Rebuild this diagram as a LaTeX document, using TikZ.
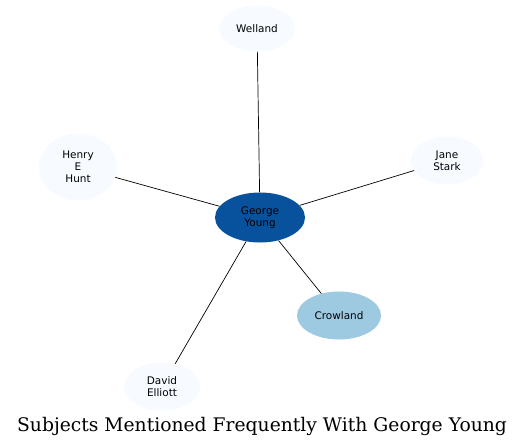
\documentclass[tikz,border=0pt]{standalone}
\usepackage{fontspec}
\setmainfont{DejaVu Serif}
\newfontfamily\nodefont{DejaVu Sans}
\usetikzlibrary{shapes.geometric}
\definecolor{lightb}{HTML}{F7FBFF}
\definecolor{darkb}{HTML}{08519C}
\definecolor{midb}{HTML}{9ECAE1}
\tikzset{
  ent/.style={ellipse, inner sep=0pt, draw=none, fill=lightb, align=center,
    font=\nodefont\fontsize{10.5}{11.8}\selectfont, text=black},
  link/.style={draw=black, line width=0.7bp}
}
\begin{document}
\begin{tikzpicture}[x=1bp,y=-1bp]
\path[fill=white] (0,0) rectangle (524,447);
\useasboundingbox (0,0) rectangle (524,447);
\node[ent, fill=darkb, minimum width=90bp, minimum height=50bp] (gy) at (260,217.5) {George\\Young};
\node[ent, minimum width=76bp, minimum height=46bp] (we) at (257,28.5) {Welland};
\node[ent, minimum width=78bp, minimum height=67bp] (hh) at (78,167) {Henry\\E\\Hunt};
\node[ent, minimum width=72bp, minimum height=48bp] (js) at (447,160.5) {Jane\\Stark};
\node[ent, fill=midb, minimum width=84bp, minimum height=48bp] (cr) at (339,315.5) {Crowland};
\node[ent, minimum width=76bp, minimum height=48bp] (de) at (162,386.5) {David\\Elliott};
\draw[link] (gy) -- (we);
\draw[link] (gy) -- (hh);
\draw[link] (gy) -- (js);
\draw[link] (gy) -- (cr);
\draw[link] (gy) -- (de);
\node[font=\fontsize{18.8}{21}\selectfont] (title) at (262,426) {Subjects Mentioned Frequently With George Young};
\end{tikzpicture}
\end{document}
